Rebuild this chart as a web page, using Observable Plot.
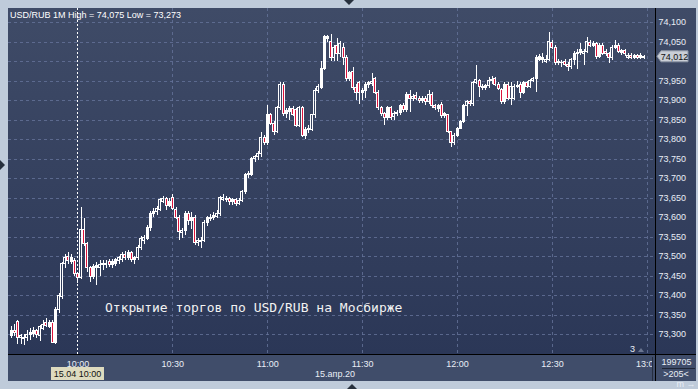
<!DOCTYPE html>
<html><head><meta charset="utf-8">
<script src="https://cdn.jsdelivr.net/npm/d3@7"></script>
<script src="https://cdn.jsdelivr.net/npm/@observablehq/plot@0.6"></script>
<style>
html,body{margin:0;padding:0;}
body{background:#bfcbda;width:698px;height:389px;overflow:hidden;font-family:"Liberation Sans",Arial,sans-serif;}
#wrap{position:relative;width:698px;height:389px;}
.abs{position:absolute;}
</style></head>
<body><div id="wrap">
<div class="abs" style="left:8px;top:8px;width:688px;height:346px;background:linear-gradient(#3f4b67,#2b3757)"></div>
<div class="abs" style="left:8px;top:354px;width:688px;height:27px;background:#404d6a"></div>
<div id="chart" class="abs" style="left:0;top:0"></div>
<svg id="overlay" class="abs" style="left:0;top:0" width="698" height="389"></svg>
</div>
<script>
// 1-minute candles, first candle at 09:39 (offset -21 minutes from 10:00)
const firstMinuteOffset = -21;
const opens = [73.297,73.310,73.331,73.290,73.292,73.290,73.298,73.302,73.308,73.295,73.315,73.330,73.320,73.330,73.278,73.362,73.395,73.480,73.500,73.485,73.488,
73.456,73.445,73.567,73.533,73.470,73.447,73.470,73.470,73.477,73.478,73.485,73.478,73.482,73.488,73.492,73.505,73.495,73.508,73.490,73.495,73.522,73.540,73.545,73.572,73.608,73.615,73.620,73.640,73.648,73.630,
73.651,73.618,73.600,73.560,73.565,73.608,73.590,73.600,73.535,73.538,73.540,73.585,73.595,73.598,73.602,73.608,73.645,73.645,73.648,73.640,73.645,73.635,73.642,73.666,73.708,73.710,73.750,73.755,73.762,73.805,
73.790,73.862,73.840,73.820,73.880,73.940,73.866,73.870,73.878,73.875,73.835,73.880,73.810,73.825,73.825,73.862,73.925,73.932,73.982,74.058,
74.050,74.008,74.040,74.020,74.035,74.010,73.956,73.972,73.933,73.945,73.918,73.925,73.940,73.942,73.955,73.920,73.880,73.866,73.854,73.880,
73.858,73.865,73.868,73.885,73.875,73.915,73.905,73.912,73.905,73.898,73.905,73.895,73.915,73.885,73.878,73.888,73.860,73.862,73.818,73.790,
73.810,73.828,73.846,73.886,73.895,73.890,73.944,73.950,73.935,73.932,73.936,73.950,73.955,73.940,73.928,73.895,73.940,73.905,73.905,73.935,
73.940,73.920,73.945,73.935,73.950,73.955,74.005,74.005,74.000,74.005,74.048,74.035,73.995,73.995,73.998,73.992,73.985,74.003,74.018,74.022,
74.020,74.025,74.048,74.040,74.045,74.012,74.040,74.025,74.018,74.008,74.035,74.040,74.022,74.028,74.010,74.015,74.010,74.014,74.010,74.010];
const highs = [73.320,73.325,73.335,73.300,73.300,73.310,73.315,73.318,73.312,73.322,73.335,73.340,73.335,73.335,73.368,73.405,73.485,73.505,73.510,73.505,73.495,
73.460,73.626,73.597,73.537,73.475,73.480,73.485,73.490,73.490,73.490,73.492,73.492,73.495,73.500,73.510,73.512,73.515,73.512,73.500,73.528,73.552,73.555,73.580,73.615,73.622,73.628,73.650,73.655,73.652,73.648,
73.660,73.625,73.605,73.572,73.615,73.615,73.612,73.605,73.545,73.548,73.592,73.602,73.608,73.612,73.618,73.655,73.658,73.655,73.652,73.650,73.650,73.648,73.670,73.712,73.718,73.755,73.760,73.770,73.818,73.810,
73.887,73.866,73.845,73.885,73.945,73.945,73.880,73.885,73.885,73.880,73.885,73.885,73.830,73.835,73.865,73.930,73.940,74.000,74.066,74.066,
74.069,74.040,74.058,74.052,74.045,74.015,73.975,73.985,73.940,73.950,73.930,73.945,73.950,73.969,73.960,73.925,73.885,73.870,73.885,73.885,
73.872,73.875,73.890,73.892,73.920,73.925,73.915,73.920,73.910,73.910,73.910,73.925,73.920,73.890,73.890,73.895,73.870,73.865,73.820,73.815,
73.830,73.850,73.890,73.900,73.900,73.950,73.990,73.955,73.940,73.942,73.960,73.962,73.960,73.945,73.932,73.945,73.945,73.945,73.940,73.950,
73.945,73.950,73.950,73.955,73.960,74.015,74.018,74.020,74.015,74.075,74.055,74.040,74.005,74.002,74.005,73.998,74.008,74.025,74.030,74.045,
74.032,74.062,74.055,74.052,74.050,74.045,74.045,74.032,74.022,74.040,74.055,74.045,74.032,74.032,74.020,74.020,74.018,74.018,74.020,74.016];
const lows = [73.290,73.295,73.275,73.275,73.273,73.282,73.285,73.292,73.290,73.283,73.310,73.318,73.315,73.276,73.275,73.355,73.390,73.470,73.480,73.480,73.450,
73.430,73.440,73.525,73.460,73.433,73.440,73.426,73.450,73.465,73.470,73.472,73.470,73.475,73.480,73.485,73.490,73.490,73.485,73.480,73.490,73.515,73.530,73.540,73.565,73.600,73.605,73.615,73.635,73.618,73.625,
73.618,73.595,73.541,73.545,73.555,73.580,73.570,73.528,73.525,73.520,73.535,73.578,73.590,73.592,73.598,73.602,73.640,73.638,73.632,73.632,73.628,73.630,73.638,73.660,73.700,73.705,73.742,73.745,73.755,73.785,
73.785,73.835,73.810,73.815,73.875,73.860,73.855,73.850,73.858,73.830,73.830,73.805,73.800,73.815,73.820,73.855,73.918,73.928,73.978,74.050,
74.000,74.000,74.000,74.010,73.990,73.950,73.950,73.925,73.900,73.890,73.900,73.905,73.930,73.935,73.915,73.875,73.860,73.835,73.850,73.850,
73.850,73.860,73.862,73.870,73.870,73.870,73.898,73.900,73.892,73.892,73.888,73.890,73.880,73.875,73.870,73.855,73.855,73.815,73.780,73.785,
73.805,73.825,73.840,73.860,73.885,73.885,73.940,73.908,73.925,73.925,73.930,73.940,73.935,73.925,73.890,73.890,73.900,73.887,73.900,73.930,
73.905,73.915,73.930,73.930,73.945,73.920,74.000,73.995,73.995,74.000,74.030,73.990,73.990,73.985,73.988,73.975,73.980,73.990,73.980,74.015,
73.990,74.020,74.035,74.035,74.005,74.008,74.015,74.012,73.995,74.002,74.030,74.020,74.015,74.012,74.005,74.005,74.005,74.005,74.005,74.005];
const closes = [73.310,73.305,73.290,73.295,73.288,73.300,73.305,73.308,73.298,73.318,73.325,73.322,73.330,73.278,73.362,73.398,73.480,73.497,73.488,73.495,73.456,
73.445,73.567,73.533,73.470,73.447,73.472,73.475,73.478,73.480,73.482,73.478,73.485,73.490,73.495,73.505,73.495,73.508,73.492,73.495,73.522,73.545,73.548,73.573,73.610,73.615,73.622,73.644,73.648,73.630,73.640,
73.623,73.600,73.562,73.565,73.610,73.592,73.600,73.535,73.540,73.540,73.585,73.598,73.600,73.605,73.610,73.650,73.650,73.648,73.640,73.645,73.635,73.642,73.666,73.708,73.712,73.750,73.755,73.762,73.805,73.790,
73.862,73.840,73.820,73.880,73.940,73.866,73.872,73.878,73.862,73.835,73.880,73.810,73.825,73.828,73.862,73.925,73.935,73.982,74.062,74.062,
74.008,74.035,74.020,74.045,74.010,73.956,73.970,73.933,73.920,73.920,73.925,73.940,73.945,73.948,73.920,73.880,73.866,73.854,73.880,73.856,
73.865,73.868,73.885,73.875,73.915,73.905,73.910,73.905,73.898,73.905,73.895,73.915,73.885,73.880,73.885,73.860,73.865,73.818,73.790,73.810,
73.828,73.846,73.886,73.895,73.890,73.944,73.952,73.935,73.932,73.936,73.950,73.952,73.940,73.930,73.895,73.940,73.905,73.935,73.935,73.938,
73.920,73.945,73.935,73.950,73.955,74.010,74.012,74.008,74.005,74.050,74.035,73.995,73.998,73.997,73.992,73.985,74.003,74.020,74.022,74.030,
74.025,74.050,74.040,74.045,74.012,74.040,74.020,74.018,74.008,74.035,74.040,74.025,74.028,74.018,74.015,74.010,74.013,74.010,74.014,74.012];

const yTicks = [73.30,73.35,73.40,73.45,73.50,73.55,73.60,73.65,73.70,73.75,73.80,73.85,73.90,73.95,74.00,74.05,74.10];
const xTickMinutes = [0,30,60,90,120,150,180];
const xTickLabels = ["10:00","10:30","11:00","11:30","12:00","12:30","13:00"];
const cursorMinute = 0;
const cursorLabel = "15.04 10:00";
const dateLabel = "15.апр.20";
const titleText = "USD/RUB 1M High = 74,075 Low = 73,273";
const noteText = "Открытие торгов по USD/RUB на Мосбирже";
const volumeText = "199705";
const barsText = ">205<";

const candles = opens.map((o, i) => ({m: firstMinuteOffset + i, o, h: highs[i], l: lows[i], c: closes[i]}));
const up = candles.filter(d => d.c >= d.o);
const down = candles.filter(d => d.c < d.o);
const fmt = d => d.toFixed(3).replace(".", ",");
const last = closes[closes.length - 1];
// the last-price marker hides the tick label that sits under it
const labelTicks = yTicks.filter(t => Math.abs(t - last) > 0.02);

const bodyOpts = {
  x1: d => d.m - 0.316, x2: d => d.m + 0.316,
  y1: d => Math.min(d.o, d.c), y2: d => Math.max(d.o, d.c),
  stroke: "#ffffff", strokeWidth: 1, shapeRendering: "crispEdges"
};

const chart = Plot.plot({
  width: 698, height: 389,
  marginLeft: 8, marginRight: 43, marginTop: 8, marginBottom: 35,
  style: {background: "transparent", fontFamily: "'Liberation Sans', Arial, sans-serif", fontSize: "9px", color: "#e9eef6"},
  x: {type: "linear", domain: [-21.97, 182.6]},
  y: {type: "linear", domain: [73.24872, 74.1359]},
  marks: [
    Plot.ruleY(yTicks, {stroke: "#65739a", strokeOpacity: 0.8, strokeDasharray: "3,3", shapeRendering: "crispEdges"}),
    Plot.ruleX(xTickMinutes.filter(m => m !== cursorMinute), {stroke: "#65739a", strokeOpacity: 0.8, strokeDasharray: "3,3", shapeRendering: "crispEdges"}),
    Plot.ruleX([cursorMinute], {stroke: "#ffffff", strokeDasharray: "2,2", shapeRendering: "crispEdges"}),
    Plot.ruleX(candles, {x: "m", y1: "l", y2: "h", stroke: "#ffffff", strokeWidth: 1, shapeRendering: "crispEdges"}),
    Plot.rect(up, {...bodyOpts, fill: "none"}),
    Plot.rect(down, {...bodyOpts, fill: "#dc143c"}),
    Plot.axisY(labelTicks, {anchor: "right", tickSize: 0, tickPadding: 3, tickFormat: fmt, fill: "#e9eef6"}),
    Plot.axisX(xTickMinutes, {anchor: "bottom", tickSize: 0, tickPadding: 6, tickFormat: d => xTickLabels[xTickMinutes.indexOf(d)], fill: "#e9eef6"})
  ]
});
document.getElementById("chart").append(chart);

const sx = chart.scale("x"), sy = chart.scale("y");
const ov = d3.select("#overlay");
const F = "'Liberation Sans', Arial, sans-serif";
// frame lines and bottom-right box
ov.append("rect").attr("x", 652).attr("y", 355).attr("width", 44).attr("height", 26).attr("fill", "#404d6a");
ov.append("line").attr("x1", 652.5).attr("x2", 652.5).attr("y1", 357).attr("y2", 381).attr("stroke", "#262e40");
ov.append("line").attr("x1", 8).attr("x2", 696).attr("y1", 354.5).attr("y2", 354.5).attr("stroke", "#000");
ov.append("line").attr("x1", 655.5).attr("x2", 655.5).attr("y1", 8).attr("y2", 381).attr("stroke", "#000");
// title
ov.append("text").attr("x", 10).attr("y", 18).attr("fill", "#ffffff").attr("font-family", F).attr("font-size", 9).text(titleText);
// annotation
ov.append("text").attr("x", 105).attr("y", 312).attr("fill", "#f2f2f2").attr("font-family", "'DejaVu Sans Mono', monospace").attr("font-size", 13).text(noteText);
// date label
ov.append("text").attr("x", 315).attr("y", 377).attr("fill", "#e9eef6").attr("font-family", F).attr("font-size", 9).text(dateLabel);
// cursor label
const cx = sx.apply(cursorMinute);
ov.append("rect").attr("x", cx - 26.5).attr("y", 367).attr("width", 53).attr("height", 13).attr("fill", "#dedbbf");
ov.append("text").attr("x", cx).attr("y", 377).attr("text-anchor", "middle").attr("fill", "#111").attr("font-family", F).attr("font-size", 9).text(cursorLabel);
// last price marker
const yc = sy.apply(last);
ov.append("polygon").attr("points", `657,${yc} 661,${yc-5.5} 688,${yc-5.5} 688,${yc+5.5} 661,${yc+5.5}`).attr("fill", "#c9ced6").attr("stroke", "#8c95a5");
ov.append("text").attr("x", 674.5).attr("y", yc + 3.3).attr("text-anchor", "middle").attr("fill", "#111").attr("font-family", F).attr("font-size", 9).text(fmt(last));
// "3" marker
ov.append("text").attr("x", 630).attr("y", 352).attr("fill", "#e9eef6").attr("font-family", F).attr("font-size", 9).text("3");
ov.append("polygon").attr("points", "638,352 644,352 641,348").attr("fill", "#6a7590");
// volume box texts
ov.append("text").attr("x", 676.5).attr("y", 365).attr("text-anchor", "middle").attr("fill", "#e9eef6").attr("font-family", F).attr("font-size", 9).text(volumeText);
ov.append("line").attr("x1", 662).attr("x2", 695).attr("y1", 368.5).attr("y2", 368.5).attr("stroke", "#1e2636");
ov.append("text").attr("x", 676).attr("y", 377).attr("text-anchor", "middle").attr("fill", "#e9eef6").attr("font-family", F).attr("font-size", 9).text(barsText);
// edge triangles
ov.append("polygon").attr("points", "344,0 354,0 349,5").attr("fill", "#27303d");
ov.append("polygon").attr("points", "0,160 0,170 5,165").attr("fill", "#27303d");
ov.append("polygon").attr("points", "347,389 357,389 352,384").attr("fill", "#27303d");
</script>
</body></html>
